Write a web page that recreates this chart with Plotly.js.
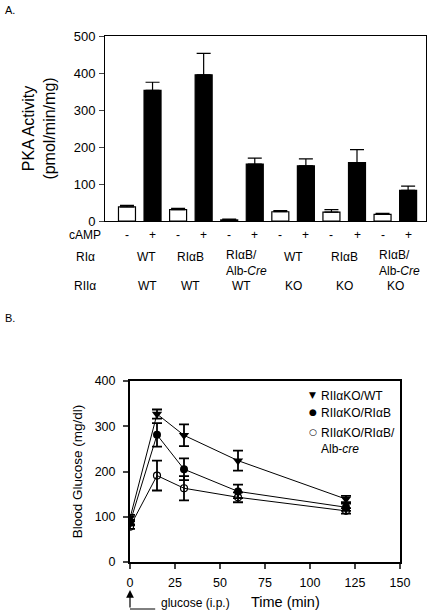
<!DOCTYPE html>
<html>
<head>
<meta charset="utf-8">
<script src="https://cdn.plot.ly/plotly-3.0.1.min.js"></script>
<style>html,body{margin:0;padding:0;background:#fff;}#chart{width:431px;height:616px;}</style>
</head>
<body>
<div id="chart"></div>
<script>
// ---- Panel A data ----
const barIndex = [0,1,2,3,4,5,6,7,8,9,10,11];
const cAMP = ['-','+','-','+','-','+','-','+','-','+','-','+'];
const pkaActivity = [38, 353, 31, 395, 3, 154, 25, 149, 24, 158, 18, 83];
const pkaError = [4, 22, 3, 58, 2, 16, 3, 19, 7, 35, 3, 11];
const groupCenters = [0.5, 2.5, 4.5, 6.5, 8.5, 10.5];
const riAlpha = ['WT', 'RI\u03b1B', 'RI\u03b1B/<br>Alb-<i>Cre</i>', 'WT', 'RI\u03b1B', 'RI\u03b1B/<br>Alb-<i>Cre</i>'];
const riiAlpha = ['WT', 'WT', 'WT', 'KO', 'KO', 'KO'];

// ---- Panel B data ----
const timeMin = [0, 15, 30, 60, 120];
const koWT = [97, 327, 280, 224, 139];
const koWTErr = [7, 10, 24, 22, 7];
const koRIaB = [87, 281, 205, 156, 121];
const koRIaBErr = [6, 26, 24, 15, 8];
const koRIaBCre = [78, 191, 163, 143, 113];
const koRIaBCreErr = [5, 33, 27, 11, 6];
const seriesNames = ['RII\u03b1KO/WT', 'RII\u03b1KO/RI\u03b1B', 'RII\u03b1KO/RI\u03b1B/<br>Alb-<i>cre</i>'];
const seriesGlyphs = ['\u25BC', '\u25CF', '\u25CB'];

const W = 431, H = 616;
const px = v => v / W;
const py = v => 1 - v / H;
const FONT = 'Liberation Sans, Arial, Helvetica, sans-serif';
const BLACK = '#000';

const traces = [
  {
    type: 'bar', x: barIndex, y: pkaActivity, xaxis: 'x', yaxis: 'y',
    width: 0.665,
    marker: {color: cAMP.map(c => c === '+' ? BLACK : '#fff'), line: {color: BLACK, width: 1.2}},
    error_y: {type: 'data', symmetric: false, array: pkaError, arrayminus: pkaError.map(() => 0),
              color: BLACK, thickness: 1.2, width: 7},
    showlegend: false, hoverinfo: 'skip'
  },
  {
    type: 'scatter', mode: 'lines+markers', name: seriesNames[0], x: timeMin, y: koWT, xaxis: 'x2', yaxis: 'y2',
    line: {color: BLACK, width: 1}, marker: {symbol: 'triangle-down', size: 9, color: BLACK},
    error_y: {type: 'data', array: koWTErr, color: BLACK, thickness: 1.8, width: 5},
    showlegend: false
  },
  {
    type: 'scatter', mode: 'lines+markers', name: seriesNames[1], x: timeMin, y: koRIaB, xaxis: 'x2', yaxis: 'y2',
    line: {color: BLACK, width: 1}, marker: {symbol: 'circle', size: 8, color: BLACK},
    error_y: {type: 'data', array: koRIaBErr, color: BLACK, thickness: 1.8, width: 5},
    showlegend: false
  },
  {
    type: 'scatter', mode: 'lines+markers', name: seriesNames[2], x: timeMin, y: koRIaBCre, xaxis: 'x2', yaxis: 'y2',
    line: {color: BLACK, width: 1}, marker: {symbol: 'circle-open', size: 7, color: BLACK, line: {width: 1.2}},
    error_y: {type: 'data', array: koRIaBCreErr, color: BLACK, thickness: 1.8, width: 5},
    showlegend: false
  }
];

const annotations = [];
function ann(o) { annotations.push(Object.assign({showarrow: false, font: {family: FONT, size: 12, color: BLACK}}, o)); }

ann({text: 'A.', xref: 'paper', yref: 'paper', x: px(3), y: py(10), xanchor: 'left', yanchor: 'middle', font: {family: FONT, size: 11, color: BLACK}});
ann({text: 'B.', xref: 'paper', yref: 'paper', x: px(3), y: py(318), xanchor: 'left', yanchor: 'middle', font: {family: FONT, size: 11, color: BLACK}});

// Panel A category rows
ann({text: 'cAMP', xref: 'paper', yref: 'paper', x: px(103), y: py(235), xanchor: 'right', yanchor: 'middle'});
ann({text: 'RI\u03b1', xref: 'paper', yref: 'paper', x: px(74), y: py(257), xanchor: 'left', yanchor: 'middle'});
ann({text: 'RII\u03b1', xref: 'paper', yref: 'paper', x: px(72), y: py(286), xanchor: 'left', yanchor: 'middle'});
barIndex.forEach((b, i) => ann({text: cAMP[i], xref: 'x', yref: 'paper', x: b, y: py(235), xanchor: 'center', yanchor: 'middle'}));
groupCenters.forEach((g, i) => {
  const two = riAlpha[i].indexOf('<br>') >= 0;
  const nudge = i === 0 ? 7 : 0;
  ann({text: riAlpha[i], xref: 'x', yref: 'paper', x: g, xshift: two ? -18 : nudge,
       y: py(two ? 263 : 257), xanchor: two ? 'left' : 'center', yanchor: 'middle', align: 'left'});
  ann({text: riiAlpha[i], xref: 'x', yref: 'paper', x: g, xshift: i === 0 ? 8 : 0, y: py(286), xanchor: 'center', yanchor: 'middle'});
});

// Panel B legend (marker glyph + label)
const legendRows = [394, 411, 431];
seriesNames.forEach((n, i) => {
  ann({text: seriesGlyphs[i], xref: 'paper', yref: 'paper', x: px(312.5), y: py(legendRows[i] + 1), xanchor: 'center', yanchor: 'middle',
       font: {family: 'DejaVu Sans', size: i === 1 ? 9 : 9, color: BLACK}});
  ann({text: n, xref: 'paper', yref: 'paper', x: px(319), y: py(legendRows[i] - 7), xanchor: 'left', yanchor: 'top', align: 'left'});
});

// Panel B annotations
ann({text: '', xref: 'x2', yref: 'paper', x: 0, y: py(590), ax: 0, ay: 19, axref: 'pixel', ayref: 'pixel',
     showarrow: true, arrowhead: 2, arrowsize: 1.3, arrowwidth: 1.2, arrowcolor: BLACK});
ann({text: 'glucose (i.p.)', xref: 'paper', yref: 'paper', x: px(159), y: py(603), xanchor: 'left', yanchor: 'middle'});
ann({text: 'Time (min)', xref: 'paper', yref: 'paper', x: px(285), y: py(602), xanchor: 'center', yanchor: 'middle', font: {family: FONT, size: 14.5, color: BLACK}});

const layout = {
  width: W, height: H,
  margin: {l: 0, r: 0, t: 0, b: 0, pad: 0},
  paper_bgcolor: '#fff', plot_bgcolor: '#fff',
  font: {family: FONT, color: BLACK},
  showlegend: false,
  xaxis: {domain: [px(105), px(426)], range: [-0.86, 11.7], showticklabels: false, ticks: '',
          showline: true, mirror: true, linecolor: BLACK, linewidth: 1, showgrid: false, zeroline: false, fixedrange: true},
  yaxis: {domain: [py(221), py(36)], range: [0, 500], dtick: 100, ticks: 'outside', ticklen: 5, tickwidth: 1,
          showline: true, mirror: true, linecolor: BLACK, linewidth: 1, showgrid: false, zeroline: false,
          ticklabelstandoff: 1,
          tickfont: {family: FONT, size: 13, color: BLACK},
          title: {text: 'PKA Activity<br>(pmol/min/mg)', font: {family: FONT, size: 16, color: BLACK}, standoff: 14}},
  xaxis2: {domain: [px(130), px(400)], range: [0, 150], dtick: 25, ticks: 'outside', ticklen: 5, tickwidth: 2,
           showline: true, mirror: true, linecolor: BLACK, linewidth: 2, showgrid: false, zeroline: false,
           ticklabelstandoff: 3,
           anchor: 'y2', tickfont: {family: FONT, size: 12.5, color: BLACK}},
  yaxis2: {domain: [py(562), py(381)], range: [0, 400], dtick: 100, ticks: 'outside', ticklen: 5, tickwidth: 2,
           showline: true, mirror: true, linecolor: BLACK, linewidth: 2, showgrid: false, zeroline: false,
           ticklabelstandoff: 5,
           anchor: 'x2', tickfont: {family: FONT, size: 12.5, color: BLACK},
           title: {text: 'Blood Glucose (mg/dl)', font: {family: FONT, size: 13.5, color: BLACK}, standoff: 9}},
  shapes: [
    {type: 'line', xref: 'x2', yref: 'paper', x0: 0, x1: 14, y0: py(609), y1: py(609), line: {color: BLACK, width: 1}}
  ],
  annotations: annotations
};

Plotly.newPlot('chart', traces, layout, {staticPlot: true, displayModeBar: false});
</script>
</body>
</html>
